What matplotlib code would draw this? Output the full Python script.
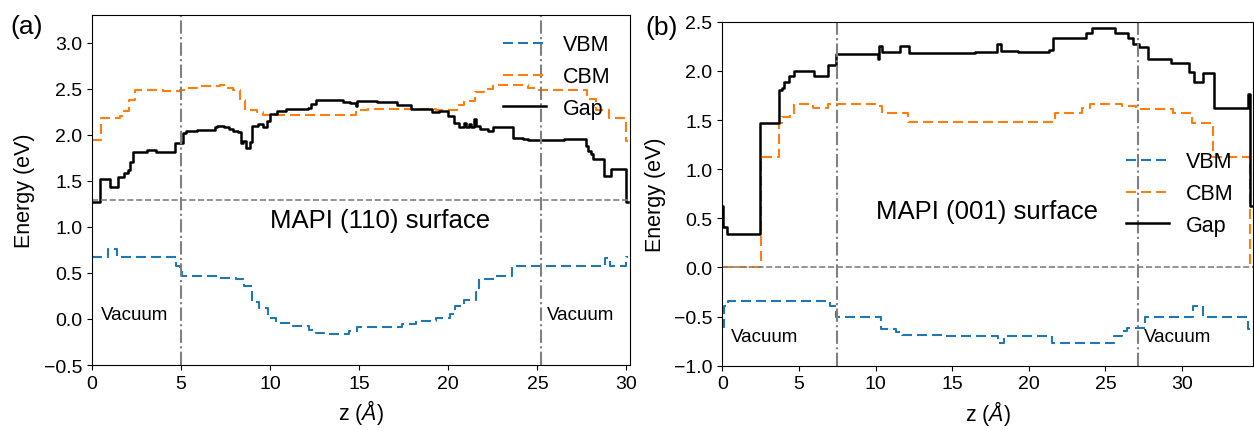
import matplotlib
matplotlib.use('Agg')
import matplotlib.pyplot as plt

plt.rcParams['font.family'] = ['Liberation Sans', 'DejaVu Sans']
plt.rcParams['mathtext.fontset'] = 'custom'
plt.rcParams['mathtext.rm'] = 'Liberation Sans'
plt.rcParams['mathtext.it'] = 'Liberation Sans:italic'

# (a) MAPI (110) surface: step profiles, value holds from z onward
za_vbm = [0, 0.9, 1.4, 4.7, 4.95, 5.05, 7.0, 8.1, 8.55, 9.0, 9.4, 9.85, 10.3,
          11.3, 12.2, 12.6, 13.0, 14.4, 14.9, 17.4, 18.2, 19.3, 20.1, 20.35,
          20.9, 21.55, 21.75, 22.6, 23.6, 28.8, 29.05, 29.95, 30.1]
ea_vbm = [0.67, 0.76, 0.67, 0.575, 0.54, 0.47, 0.45, 0.43, 0.36, 0.18, 0.12,
          0.015, -0.04, -0.077, -0.12, -0.15, -0.167, -0.13, -0.083, -0.06,
          -0.02, 0.015, 0.05, 0.14, 0.21, 0.29, 0.43, 0.47, 0.57, 0.66, 0.57,
          0.67, 0.67]

za_cbm = [0, 0.5, 1.55, 1.8, 2.1, 2.4, 4.0, 4.95, 5.3, 5.9, 7.2, 7.5, 7.9, 8.3,
          8.6, 9.25, 9.6, 14.8, 15.5, 19.3, 20.6, 20.9, 21.5, 22.0, 22.5, 24.5,
          25.1, 27.8, 28.3, 29.0, 30.0, 30.1]
ea_cbm = [1.94, 2.18, 2.20, 2.26, 2.38, 2.49, 2.48, 2.49, 2.51, 2.53, 2.54,
          2.51, 2.49, 2.38, 2.27, 2.25, 2.21, 2.27, 2.28, 2.27, 2.32, 2.37,
          2.46, 2.50, 2.54, 2.51, 2.49, 2.39, 2.27, 2.18, 1.93, 1.93]

za_gap = [0, 0.45, 1.0, 1.45, 1.8, 2.0, 2.15, 2.3, 3.1, 3.6, 4.65, 5.1, 5.3,
          5.9, 6.9, 7.0, 7.4, 7.7, 7.9, 8.2, 8.35, 8.5, 8.65, 8.85, 9.0, 9.3,
          9.6, 9.8, 10.0, 10.4, 10.9, 12.1, 12.3, 12.6, 14.1, 14.5, 14.8, 14.9,
          16.0, 17.1, 17.9, 19.1, 19.5, 20.0, 20.3, 20.6, 20.9, 21.0, 21.15,
          21.3, 21.45, 21.55, 21.8, 22.2, 22.5, 23.65, 24.2, 24.5, 26.5, 27.75,
          27.85, 28.0, 28.15, 28.75, 29.15, 30.0, 30.1]
ea_gap = [1.27, 1.52, 1.43, 1.54, 1.59, 1.62, 1.70, 1.81, 1.83, 1.81, 1.91,
          2.02, 2.04, 2.05, 2.08, 2.10, 2.08, 2.06, 2.04, 2.03, 1.91, 1.93,
          1.86, 1.92, 2.10, 2.12, 2.08, 2.15, 2.22, 2.26, 2.28, 2.29, 2.33,
          2.38, 2.36, 2.35, 2.31, 2.37, 2.36, 2.32, 2.28, 2.25, 2.26, 2.20,
          2.13, 2.08, 2.13, 2.08, 2.12, 2.08, 2.17, 2.09, 2.06, 2.04, 2.08,
          1.97, 1.95, 1.94, 1.95, 1.88, 1.82, 1.79, 1.74, 1.55, 1.63, 1.27,
          1.27]

# (b) MAPI (001) surface
zb_vbm = [0, 0.1, 0.4, 7.0, 7.45, 10.35, 11.3, 11.7, 14.4, 18.0, 18.35, 21.5,
          25.55, 26.1, 26.4, 27.6, 30.7, 31.35, 34.3, 34.64]
eb_vbm = [-0.61, -0.39, -0.337, -0.394, -0.50, -0.626, -0.66, -0.687, -0.70,
          -0.768, -0.70, -0.768, -0.70, -0.643, -0.62, -0.50, -0.394, -0.50,
          -0.626, -0.626]

zb_cbm = [0, 2.5, 3.7, 3.9, 4.4, 4.7, 5.9, 6.9, 10.0, 10.4, 12.1, 21.7, 23.5,
          24.0, 26.1, 27.0, 29.4, 30.65, 32.0, 34.4, 34.64]
eb_cbm = [0.0, 1.127, 1.466, 1.53, 1.55, 1.66, 1.62, 1.66, 1.645, 1.57, 1.48,
          1.57, 1.62, 1.66, 1.645, 1.61, 1.57, 1.466, 1.127, 0.0, 0.0]

zb_gap = [0, 0.05, 0.3, 2.45, 3.7, 3.9, 4.05, 4.35, 4.7, 5.95, 6.9, 7.45,
          10.15, 10.25, 10.4, 11.6, 12.15, 16.5, 17.9, 18.2, 19.3, 21.3, 21.6,
          23.7, 24.1, 25.6, 26.5, 26.8, 27.2, 27.8, 29.3, 30.45, 30.75, 31.35,
          32.05, 34.3, 34.45, 34.64]
eb_gap = [0.63, 0.41, 0.34, 1.466, 1.81, 1.83, 1.89, 1.95, 2.0, 1.95, 2.06,
          2.17, 2.12, 2.25, 2.19, 2.25, 2.18, 2.19, 2.27, 2.2, 2.19, 2.21, 2.33,
          2.385, 2.44, 2.385, 2.33, 2.27, 2.24, 2.12, 2.08, 1.99, 1.89, 1.98,
          1.627, 1.76, 0.63, 0.63]

fig = plt.figure(figsize=(12.54, 4.31), dpi=100)
ax1 = fig.add_axes([0.0734, 0.1508, 0.429, 0.812])
ax2 = fig.add_axes([0.576, 0.1492, 0.4234, 0.798])

dash = (4.8, 2.4)

def draw(ax, zv, ev, zc, ec, zg, eg):
    ax.plot(zv, ev, color='#1f77b4', lw=1.5, ls='--', dashes=dash,
            drawstyle='steps-post', label='VBM')
    ax.plot(zc, ec, color='#ff7f0e', lw=1.5, ls='--', dashes=dash,
            drawstyle='steps-post', label='CBM')
    ax.plot(zg, eg, color='black', lw=1.8, drawstyle='steps-post', label='Gap')
    ax.set_xlabel(r'z ($\mathit{Å}$)', fontsize=15.5)
    ax.set_ylabel('Energy (eV)', fontsize=15.5, labelpad=6)
    ax.tick_params(labelsize=14)

# panel (a)
draw(ax1, za_vbm, ea_vbm, za_cbm, ea_cbm, za_gap, ea_gap)
ax1.axhline(1.29, color='gray', lw=1.2, ls='--')
for zl in [5.0, 25.2]:
    ax1.axvline(zl, color='gray', lw=1.5, ls='-.')
ax1.set_xlim(0, 30.2)
ax1.set_ylim(-0.5, 3.3)
ax1.set_xticks([0, 5, 10, 15, 20, 25, 30])
ax1.set_yticks([-0.5, 0.0, 0.5, 1.0, 1.5, 2.0, 2.5, 3.0])
ax1.text(10, 1.0, 'MAPI (110) surface', fontsize=18.5)
ax1.text(0.5, 0.0, 'Vacuum', fontsize=13.5)
ax1.text(25.55, 0.0, 'Vacuum', fontsize=13.5)
ax1.legend(loc='upper right', frameon=False, fontsize=15.5)

# panel (b)
draw(ax2, zb_vbm, eb_vbm, zb_cbm, eb_cbm, zb_gap, eb_gap)
ax2.axhline(0.0, color='gray', lw=1.2, ls='--')
for zl in [7.5, 27.15]:
    ax2.axvline(zl, color='gray', lw=1.5, ls='-.')
ax2.set_xlim(0, 34.64)
ax2.set_ylim(-1.0, 2.5)
ax2.set_xticks([0, 5, 10, 15, 20, 25, 30])
ax2.set_yticks([-1.0, -0.5, 0.0, 0.5, 1.0, 1.5, 2.0, 2.5])
ax2.text(10, 0.5, 'MAPI (001) surface', fontsize=18.5)
ax2.text(0.55, -0.75, 'Vacuum', fontsize=13.5)
ax2.text(27.5, -0.75, 'Vacuum', fontsize=13.5)
ax2.legend(loc='center right', frameon=False, fontsize=15.5)

fig.text(10 / 1254, 1 - 27 / 431, '(a)', fontsize=19, va='center')
fig.text(645 / 1254, 1 - 28 / 431, '(b)', fontsize=19, va='center')

fig.savefig('out.png', dpi=100)
